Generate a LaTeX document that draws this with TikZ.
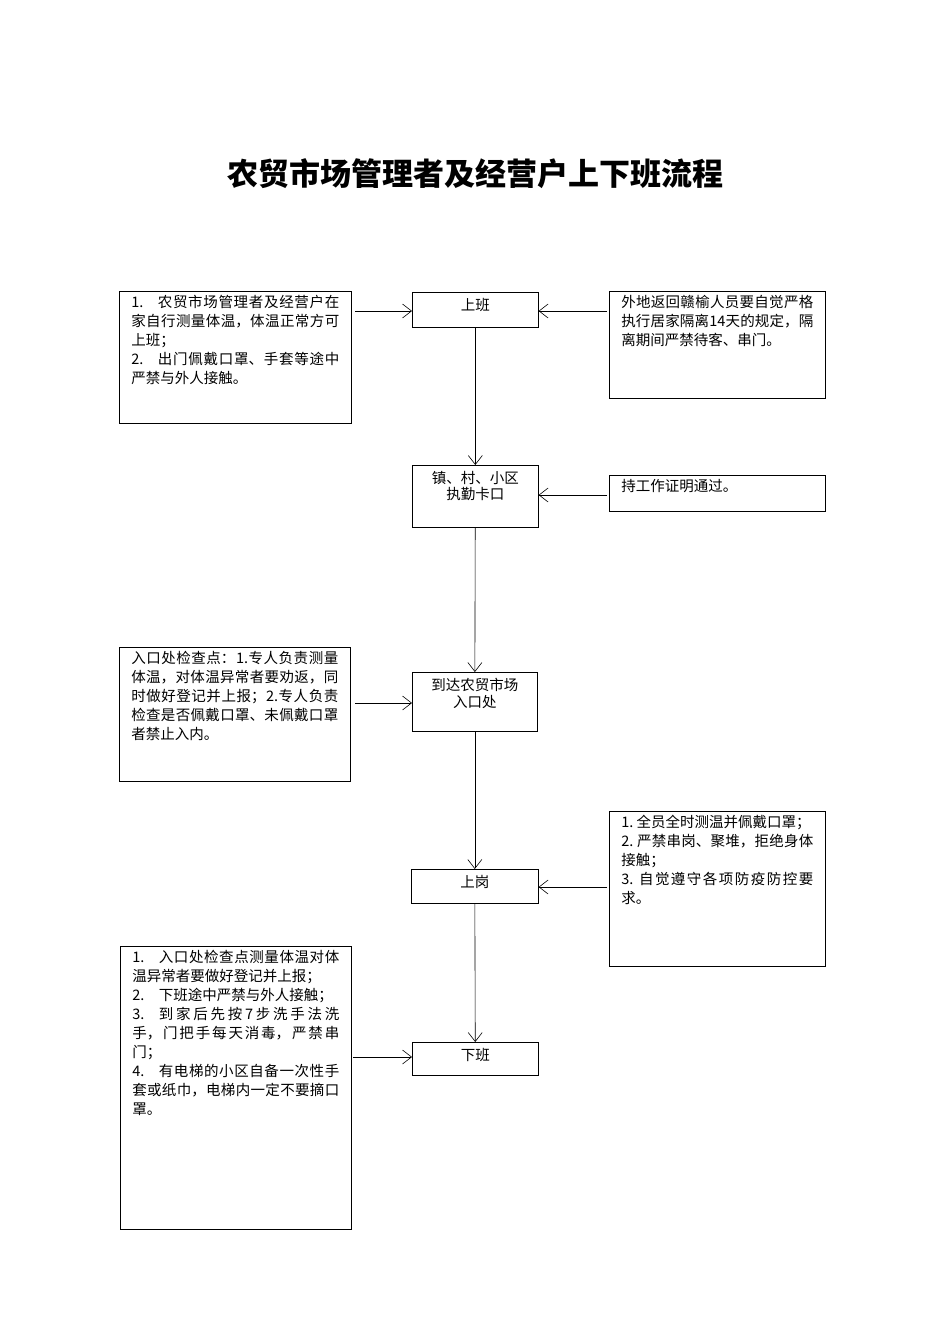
\documentclass[tikz,border=0pt]{standalone}
\usepackage{fontspec}
\setmainfont{Noto Sans CJK SC}
\XeTeXlinebreaklocale "zh"
\XeTeXlinebreakskip=0pt plus 1pt
\usetikzlibrary{arrows.meta}
\tikzset{
  box/.style={draw=black,line width=0.6pt,anchor=north west,inner sep=0pt,font=\fontsize{14.5}{19}\selectfont},
  stage/.style={draw=black,line width=0.6pt,anchor=north west,inner sep=0pt,font=\fontsize{14.5}{16.5}\selectfont},
  flow/.style={-{Straight Barb[length=9pt,width=14pt]},line width=0.6pt}
}
% box with text at the top: width, height, text
\newcommand{\txt}[3]{\parbox[t][#2pt][t]{#1pt}{\vspace{4pt}\hspace*{12pt}\parbox[t]{\dimexpr#1pt-24pt\relax}{#3}}}
\newcommand{\ctr}[3]{\parbox[t][#2pt][t]{#1pt}{\vspace{6pt}\centering #3\par}}
\begin{document}
\begin{tikzpicture}[x=1pt,y=-1pt]
\useasboundingbox (0,0) rectangle (950,1344);
\node[font=\fontsize{31}{36}\selectfont\bfseries] (title) at (475,174) {农贸市场管理者及经营户上下班流程};

% centre column
\node[stage] (s1) at (412,292) {\ctr{126}{35}{上班}};
\node[stage] (s2) at (412,465) {\ctr{126}{62}{镇、村、小区\\执勤卡口}};
\node[stage] (s3) at (412,672) {\ctr{125}{59}{到达农贸市场\\入口处}};
\node[stage] (s4) at (411,869) {\ctr{127}{34}{上岗}};
\node[stage] (s5) at (412,1042) {\ctr{126}{33}{下班}};

% side notes
\node[box] (l1) at (119,291) {\txt{232}{132}{1.\quad 农贸市场管理者及经营户在家自行测量体温，体温正常方可上班；\\2.\quad 出门佩戴口罩、手套等途中严禁与外人接触。}};
\node[box] (r1) at (609,291) {\txt{216}{107}{外地返回赣榆人员要自觉严格执行居家隔离14天的规定，隔离期间严禁待客、串门。}};
\node[box] (r2) at (609,475) {\txt{216}{36}{持工作证明通过。}};
\node[box] (l2) at (119,647) {\txt{231}{134}{入口处检查点：1.专人负责测量体温，对体温异常者要劝返，同时做好登记并上报；2.专人负责检查是否佩戴口罩、未佩戴口罩者禁止入内。}};
\node[box] (r3) at (609,811) {\txt{216}{155}{1.\ 全员全时测温并佩戴口罩；\\2.\ 严禁串岗、聚堆，拒绝身体接触；\\3.\ 自觉遵守各项防疫防控要求。}};
\node[box] (l3) at (120,946) {\txt{231}{283}{1.\quad 入口处检查点测量体温对体温异常者要做好登记并上报；\\2.\quad 下班途中严禁与外人接触；\\3.\quad 到家后先按7步洗手法洗手，门把手每天消毒，严禁串门；\\4.\quad 有电梯的小区自备一次性手套或纸巾，电梯内一定不要摘口罩。}};

\coordinate (l1e) at (355,311);
\coordinate (r1e) at (607,311);
\coordinate (r2e) at (607,495);
\coordinate (l2e) at (355,703);
\coordinate (r3e) at (607,887);
\coordinate (l3e) at (353,1057);

\draw[flow] (l1e) -- (s1.west |- l1e);
\draw[flow] (r1e) -- (s1.east |- r1e);
\draw[flow] (r2e) -- (s2.east |- r2e);
\draw[flow] (l2e) -- (s3.west |- l2e);
\draw[flow] (r3e) -- (s4.east |- r3e);
\draw[flow] (l3e) -- (s5.west |- l3e);
\draw[flow] (s1) -- (s2);
\draw[flow] (s2) -- (s3);
\draw[flow] (s3) -- (s4);
\draw[flow] (s4) -- (s5);
\end{tikzpicture}
\end{document}
